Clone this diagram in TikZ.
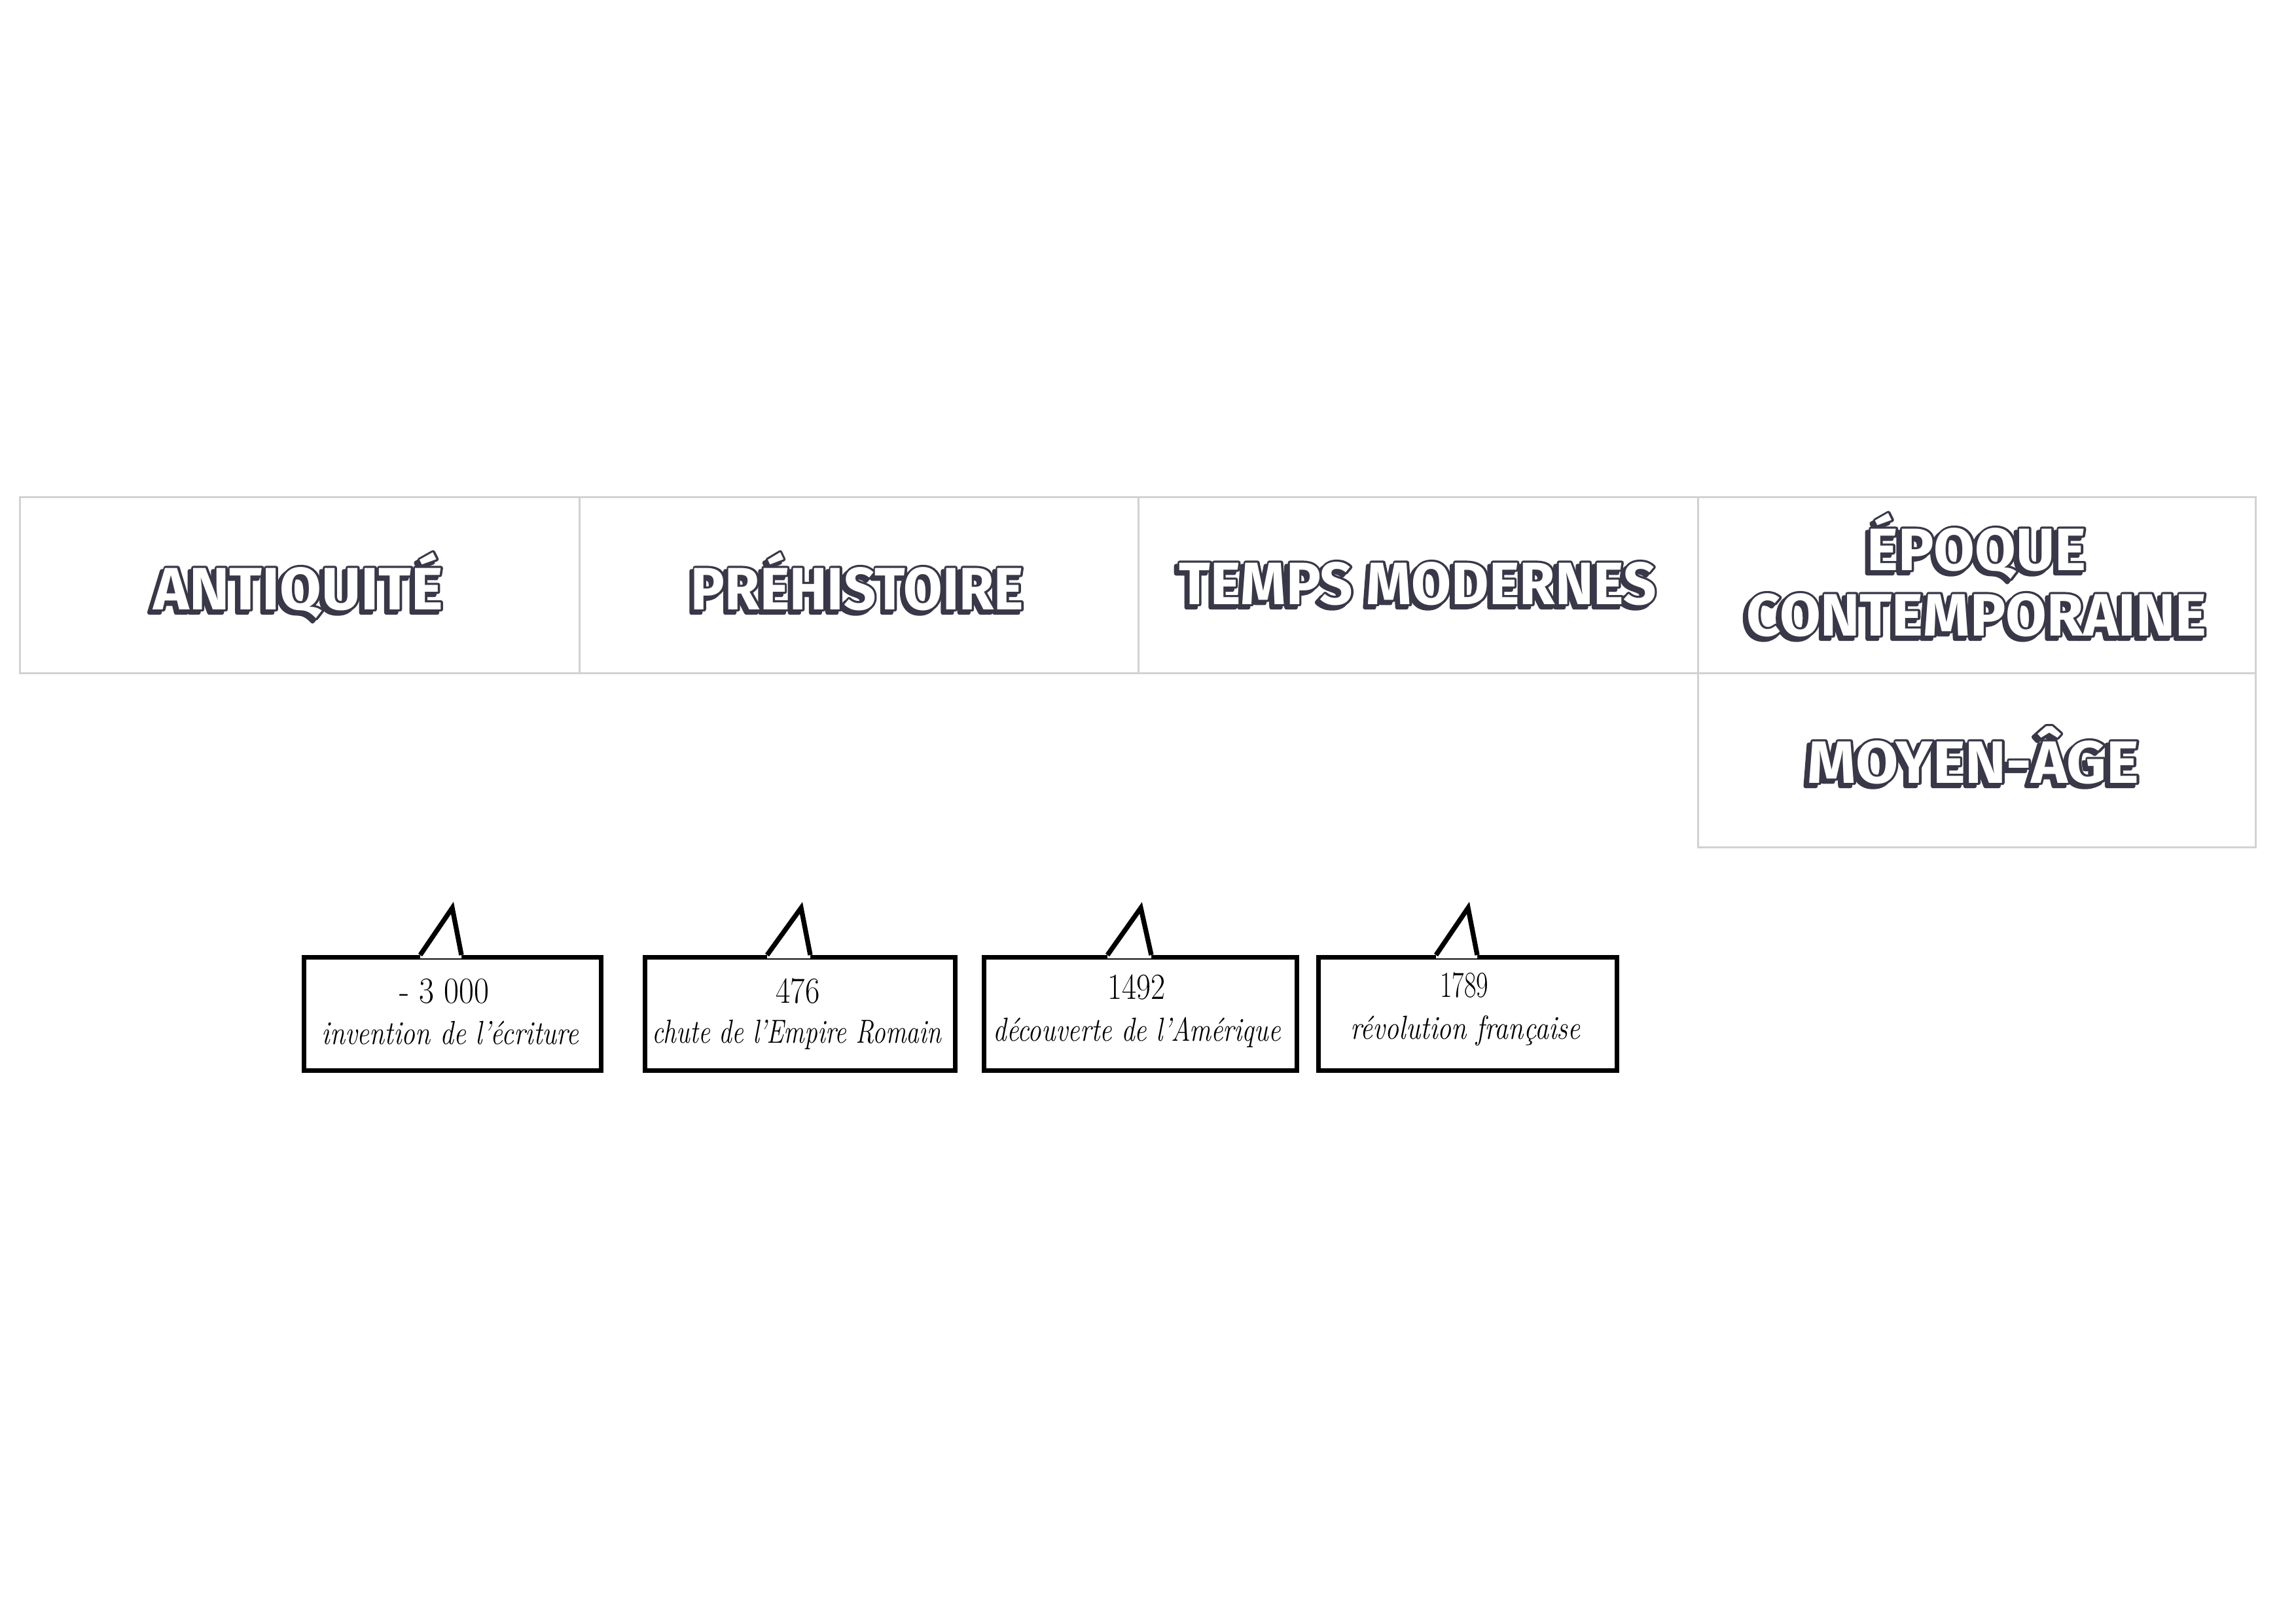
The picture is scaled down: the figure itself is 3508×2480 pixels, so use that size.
\documentclass[tikz,border=0pt]{standalone}
\usepackage{fontspec}
\usepackage{graphicx}
\usetikzlibrary{calc}
\newfontfamily\titlefont{Fira Sans}
\newfontfamily\titlefat{Fira Sans}[BoldFeatures={FakeBold=7}]
\definecolor{tdark}{HTML}{383848}
\definecolor{gridc}{HTML}{D2D2D2}
\newdimen\px \px=0.01cm
\newcommand\ttlraw[1]{\leavevmode\special{pdf:code 1 j 1 J}%
  \rlap{\kern-1.6pt\raisebox{-1.4pt}{\textcolor{tdark}{\titlefat\bfseries #1}}}%
  \rlap{\textcolor{tdark}{\titlefat\bfseries #1}}%
  \textcolor{white}{#1}}
\newcommand\ttl[2]{\resizebox{#1\px}{\height}{\ttlraw{#2}}}
\newcommand\fitw[2]{\resizebox{#1\px}{\height}{#2}}
\tikzset{
  cell/.style={draw=gridc, line width=0.85pt, inner sep=0pt, anchor=north west},
  ttlnode/.style={anchor=base, inner sep=0pt, font=\titlefont\bfseries\fontsize{26}{30}\selectfont},
  callbox/.style={draw=black, line width=2.1pt, inner sep=0pt, anchor=north west, fill=white, minimum height=173\px},
  tailline/.style={draw=black, line width=2.1pt, line join=miter},
  yr/.style={anchor=base, inner sep=0pt, font=\fontsize{16}{18}\selectfont},
  dsc/.style={anchor=base, inner sep=0pt, font=\itshape\fontsize{14.5}{16}\selectfont},
}
\begin{document}
\begin{tikzpicture}[x=0.01cm, y=-0.01cm]
\useasboundingbox[fill=white] (0,0) rectangle (3508,2480);
% table cells
\node[cell, minimum width=855\px, minimum height=269\px] (c1) at (29,758) {};
\node[cell, minimum width=854\px, minimum height=269\px] (c2) at (884,758) {};
\node[cell, minimum width=855\px, minimum height=269\px] (c3) at (1738,758) {};
\node[cell, minimum width=852\px, minimum height=269\px] (c4) at (2593,758) {};
\node[cell, minimum width=852\px, minimum height=266\px] (c5) at (2593,1027) {};
% titles
\node[ttlnode] (t1) at (456,931) {\ttl{442}{ANTIQUIT\'E}};
\node[ttlnode] (t2) at (1310,931) {\ttl{508}{PR\'EHISTOIRE}};
\node[ttlnode] (t3) at (2166,923) {\ttl{729}{TEMPS MODERNES}};
\node[ttlnode] (t4a) at (3020,871) {\ttl{335}{\'EPOQUE}};
\node[ttlnode] (t4b) at (3020,971) {\ttl{703}{CONTEMPORAINE}};
\node[ttlnode] (t5) at (3015,1196) {\ttl{507}{MOYEN-\^AGE}};
% callout boxes
\node[callbox, minimum width=454\px] (e1) at (461,1459) {};
\node[callbox, minimum width=474\px] (e2) at (982,1459) {};
\node[callbox, minimum width=478\px] (e3) at (1500,1459) {};
\node[callbox, minimum width=456\px] (e4) at (2011,1459) {};
% tails
\coordinate (a1) at (691,1387); \coordinate (l1) at (642,1459); \coordinate (r1) at (705,1459);
\coordinate (a2) at (1224,1387); \coordinate (l2) at (1172,1459); \coordinate (r2) at (1238,1459);
\coordinate (a3) at (1743,1387); \coordinate (l3) at (1692,1459); \coordinate (r3) at (1759,1459);
\coordinate (a4) at (2243,1387); \coordinate (l4) at (2194,1459); \coordinate (r4) at (2257,1459);
\foreach \i in {1,2,3,4}{
  \fill[white] (l\i) -- (a\i) -- (r\i) -- ($(r\i)+(0,5)$) -- ($(l\i)+(0,5)$) -- cycle;
  \draw[tailline] (l\i) -- (a\i) -- (r\i);
}
% texts
\node[yr] (y1) at (679,1532) {\fitw{137}{- 3 000}};
\node[dsc] (d1) at (688,1595) {\fitw{393}{invention de l'\'ecriture}};
\node[yr] (y2) at (1219,1532) {\fitw{67}{476}};
\node[dsc] (d2) at (1217,1593) {\fitw{442}{chute de l'Empire Romain}};
\node[yr] (y3) at (1736,1526) {\fitw{88}{1492}};
\node[dsc] (d3) at (1737,1590) {\fitw{439}{d\'ecouverte de l'Am\'erique}};
\node[yr] (y4) at (2237,1523) {\fitw{74}{1789}};
\node[dsc] (d4) at (2239,1587) {\fitw{351}{r\'evolution fran\c{c}aise}};
\end{tikzpicture}
\end{document}
